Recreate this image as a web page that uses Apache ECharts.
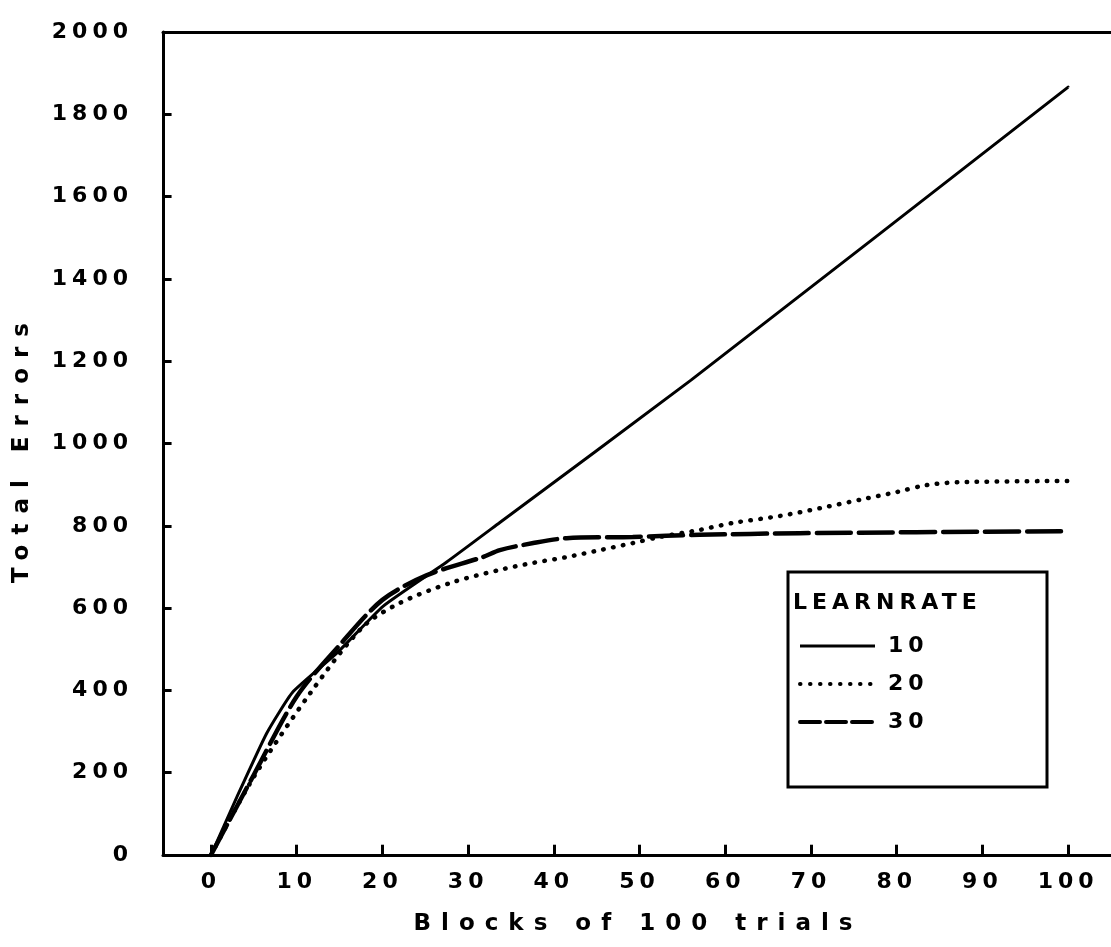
<!DOCTYPE html>
<html>
<head>
<meta charset="utf-8">
<script src="https://cdn.jsdelivr.net/npm/echarts@6/dist/echarts.min.js"></script>
<style>
  html, body { margin: 0; padding: 0; background: #fff; }
  #chart { width: 1111px; height: 947px; }
</style>
</head>
<body>
<div id="chart"></div>
<script>
// Data
const xTickValues = [0, 10, 20, 30, 40, 50, 60, 70, 80, 90, 100];
const yTickValues = [0, 200, 400, 600, 800, 1000, 1200, 1400, 1600, 1800, 2000];

const lr10x = [0, 3, 6.5, 9.5, 14.7, 20.1, 27.5, 33.7, 56, 100];
const lr10y = [0, 140, 296, 395, 491, 605, 712, 808, 1154, 1866];

const lr20x = [0, 5, 11.6, 17.7, 22, 27.9, 33.7, 37.6, 41.5, 45.4, 49.2, 52.4, 57, 60.9, 66.4, 71.1, 76.1, 80, 83.5, 87.4, 100];
const lr20y = [0, 190, 394, 554, 612, 661, 693, 710, 724, 741, 758, 773, 790, 807, 824, 843, 865, 882, 899, 906, 909];

const lr30x = [0, 5, 10, 15, 20, 25.2, 31.7, 33.7, 37.6, 41.5, 49.2, 57, 68.7, 100];
const lr30y = [0, 195, 385, 510, 620, 680, 724, 741, 758, 770, 773, 778, 782, 787];

const seriesNames = ['10', '20', '30'];
const xTitle = 'Blocks of 100 trials';
const yTitle = 'Total Errors';
const legendTitle = 'LEARNRATE';

function pairs(xs, ys) { return xs.map((x, i) => [x, ys[i]]); }

// Wide plotter-style lettering: add letter spacing to canvas text
(function () {
  const proto = CanvasRenderingContext2D.prototype;
  const orig = proto.fillText;
  proto.fillText = function (t, x, y, m) {
    const prev = this.letterSpacing;
    this.letterSpacing = /23px/.test(this.font) ? '10px' : '5px';
    const r = m === undefined ? orig.call(this, t, x, y) : orig.call(this, t, x, y, m);
    this.letterSpacing = prev;
    return r;
  };
})();

const FONT = 'DejaVu Sans';
const XMIN = -5.6, XMAX = 105;
const X_TICK_LEN = 25;   // in data units of the y axis (about 10 px)
const Y_TICK_LEN = 1;    // in data units of the x axis (about 8.5 px)

// Inward tick marks, expressed in data coordinates so the chart's own scales place them
const tickLines = []
  .concat(xTickValues.map(v => [{ coord: [v, 0] }, { coord: [v, X_TICK_LEN] }]))
  .concat(yTickValues.map(v => [{ coord: [XMIN, v] }, { coord: [XMIN + Y_TICK_LEN, v] }]));

const chart = echarts.init(document.getElementById('chart'));
chart.setOption({
  animation: false,
  grid: { left: 163, right: 0, top: 32, bottom: 92 },
  xAxis: [{
    type: 'value', min: XMIN, max: XMAX, position: 'bottom',
    axisLine: { show: true, onZero: false, lineStyle: { color: '#000', width: 3 } },
    axisTick: { show: false },
    axisLabel: { customValues: xTickValues, margin: 16, fontFamily: FONT, fontWeight: 'bold', fontSize: 22, color: '#000',
      formatter: v => String(v) },
    splitLine: { show: false }
  }, {
    type: 'value', min: XMIN, max: XMAX, position: 'top',
    axisLine: { show: true, onZero: false, lineStyle: { color: '#000', width: 3 } },
    axisTick: { show: false }, axisLabel: { show: false }, splitLine: { show: false }
  }],
  yAxis: {
    type: 'value', min: 0, max: 2000, interval: 200,
    axisLine: { show: true, onZero: false, lineStyle: { color: '#000', width: 3 } },
    axisTick: { show: false },
    axisLabel: { margin: 30, fontFamily: FONT, fontWeight: 'bold', fontSize: 22, color: '#000',
      formatter: v => String(v) },
    splitLine: { show: false }
  },
  legend: {
    orient: 'vertical', left: 793, top: 630, itemWidth: 75, itemHeight: 14, itemGap: 16,
    itemStyle: { opacity: 0 },
    data: [
      { name: seriesNames[0], lineStyle: { type: 'solid', width: 3 } },
      { name: seriesNames[1], lineStyle: { type: [0.5, 9.5], width: 4, cap: 'round' } },
      { name: seriesNames[2], lineStyle: { type: [20, 6], width: 4 } }
    ],
    textStyle: { fontFamily: FONT, fontWeight: 'bold', fontSize: 22, color: '#000', padding: [0, 0, 0, 8] }
  },
  graphic: [
    { type: 'rect', shape: { x: 788, y: 572, width: 259, height: 215 }, style: { fill: 'none', stroke: '#000', lineWidth: 3 } },
    { type: 'text', left: 793, top: 592, style: { text: legendTitle, fontFamily: FONT, fontWeight: 'bold', fontSize: 22, fill: '#000' } },
    { type: 'text', x: 638, y: 924, style: { text: xTitle, align: 'center', verticalAlign: 'middle', fontFamily: FONT, fontWeight: 'bold', fontSize: 23, fill: '#000' } },
    { type: 'text', x: 22, y: 448, rotation: Math.PI / 2, style: { text: yTitle, align: 'center', verticalAlign: 'middle', fontFamily: FONT, fontWeight: 'bold', fontSize: 23, fill: '#000' } }
  ],
  series: [
    { name: seriesNames[0], type: 'line', data: pairs(lr10x, lr10y), showSymbol: false, symbol: 'none', smooth: 0.15,
      lineStyle: { color: '#000', width: 3, type: 'solid' }, itemStyle: { color: '#000' },
      markLine: { silent: true, symbol: ['none', 'none'], label: { show: false }, animation: false,
        lineStyle: { color: '#000', width: 3, type: 'solid' }, emphasis: { disabled: true }, data: tickLines } },
    { name: seriesNames[1], type: 'line', data: pairs(lr20x, lr20y), showSymbol: false, symbol: 'none', smooth: 0.3,
      lineStyle: { color: '#000', width: 4.5, type: [0.5, 9.5], cap: 'round' }, itemStyle: { color: '#000' } },
    { name: seriesNames[2], type: 'line', data: pairs(lr30x, lr30y), showSymbol: false, symbol: 'none', smooth: 0.3,
      lineStyle: { color: '#000', width: 4.5, type: [34, 8], cap: 'round' }, itemStyle: { color: '#000' } }
  ]
});
</script>
</body>
</html>
